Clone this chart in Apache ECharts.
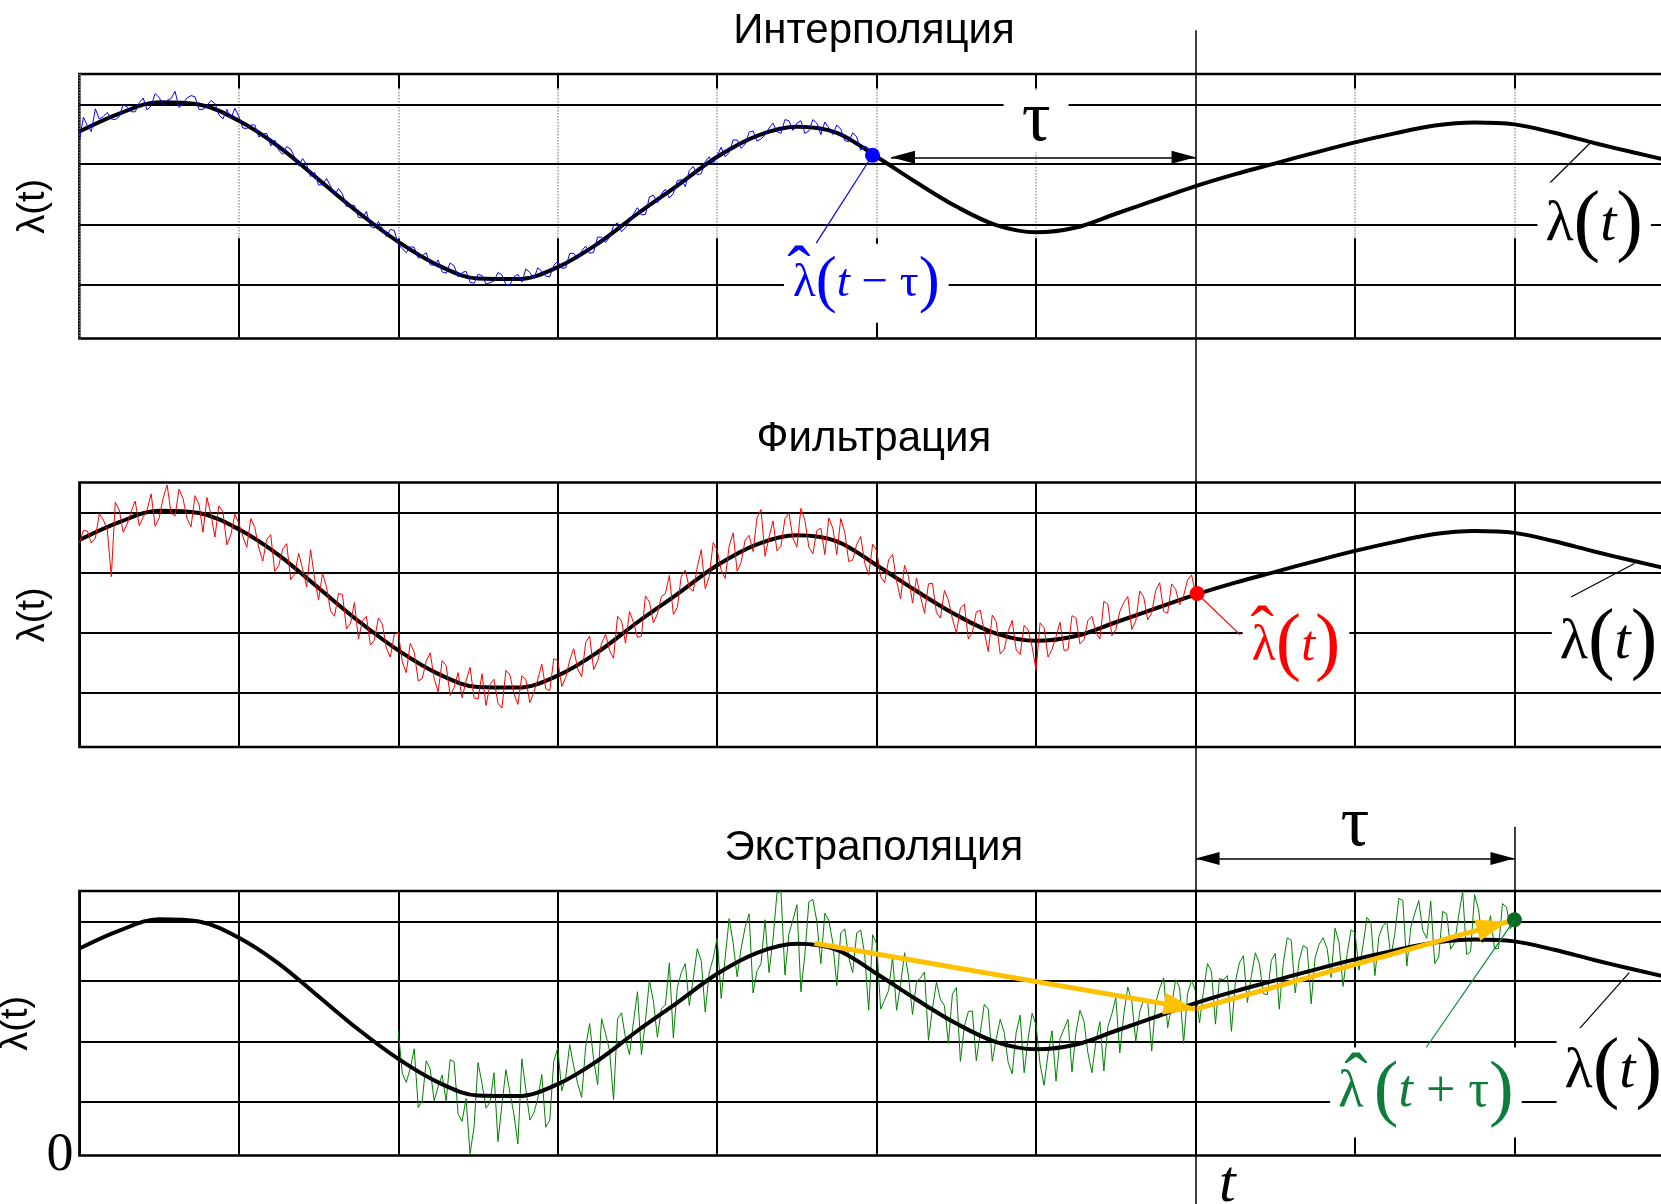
<!DOCTYPE html>
<html>
<head>
<meta charset="utf-8">
<title>Интерполяция, фильтрация, экстраполяция</title>
<script src="https://cdn.jsdelivr.net/npm/echarts@6.0.0/dist/echarts.min.js"></script>
<style>
  html, body { margin: 0; padding: 0; background: #fff; }
  #chart { width: 1661px; height: 1204px; }
</style>
</head>
<body>
<div id="chart"></div>
<script>
// horizontal grid lines (same in every panel), vertical ones come from the x axis
const hLines = [0.9, 1.9, 2.91, 3.9];
const vCols = [1, 2, 3, 4, 5, 6, 8, 9];

// true λ(t), read every 0.25 of a column, same curve in all three panels
const curveStep = 0.25;
const curveLambda = [3.45, 3.75, 3.94, 3.90, 3.63, 3.20, 2.65, 2.10, 1.61, 1.22,
  1.00, 0.99, 1.19, 1.58, 2.08, 2.55, 3.03, 3.38, 3.53, 3.43,
  3.03, 2.60, 2.20, 1.89, 1.77, 1.85, 2.08, 2.31, 2.54, 2.74,
  2.92, 3.10, 3.27, 3.42, 3.55, 3.60, 3.57, 3.43, 3.26, 3.10, 2.95];

// noisy observations, one value every 0.025 of a column
const noiseStep = 0.025;
const blueStart = 0;
const blueNoise = [
  3.30,3.69,3.55,3.45,3.83,3.66,3.70,3.77,3.66,3.65,3.70,3.90,3.86,3.78,3.78,3.93,4.01,3.81,3.88,4.08,
  4.02,3.89,3.97,4.00,4.12,3.85,3.92,4.01,4.05,4.03,3.82,3.82,3.88,3.97,3.92,3.73,3.66,3.82,3.66,3.84,
  3.70,3.51,3.50,3.56,3.56,3.36,3.41,3.42,3.21,3.31,3.14,3.07,3.20,3.16,3.02,2.88,3.00,2.90,2.70,2.77,
  2.56,2.56,2.67,2.54,2.39,2.50,2.41,2.20,2.22,2.22,2.02,2.01,2.12,1.87,1.84,1.95,1.84,1.70,1.82,1.80,
  1.57,1.50,1.43,1.53,1.52,1.34,1.38,1.43,1.23,1.22,1.31,1.11,1.09,1.26,1.21,1.03,1.10,1.12,0.94,0.92,
  1.07,1.05,0.91,0.93,0.96,1.10,1.06,0.90,0.89,1.03,1.07,0.94,1.16,1.10,1.00,1.18,1.12,1.04,1.03,1.22,
  1.29,1.17,1.18,1.42,1.42,1.33,1.46,1.54,1.42,1.44,1.69,1.69,1.60,1.69,1.88,1.93,1.78,1.85,1.95,2.08,
  2.18,2.06,2.07,2.36,2.39,2.26,2.41,2.49,2.34,2.42,2.63,2.65,2.53,2.80,2.87,2.73,2.75,2.95,3.03,2.91,
  3.05,3.19,3.03,3.10,3.31,3.31,3.17,3.24,3.44,3.46,3.29,3.33,3.39,3.51,3.59,3.45,3.42,3.65,3.63,3.47,
  3.59,3.63,3.42,3.46,3.65,3.59,3.40,3.61,3.51,3.40,3.56,3.49,3.30,3.28,3.43,3.36,3.14,3.21,3.17];
const redStart = 0;
const redNoise = [
  3.40,3.61,3.60,3.40,3.48,3.89,3.79,3.62,2.84,4.08,3.95,3.58,3.72,3.93,4.10,3.69,3.83,3.96,4.22,3.68,
  3.82,4.15,4.37,3.90,3.85,4.30,4.14,3.81,3.67,4.19,4.05,3.58,4.16,3.88,3.50,4.02,3.92,3.37,3.54,3.88,
  3.73,3.51,3.33,3.81,3.66,3.32,3.10,3.46,3.54,2.93,3.02,3.30,3.39,2.79,2.88,3.23,2.97,2.67,3.29,2.81,
  2.45,2.90,2.66,2.27,2.18,2.56,2.54,1.97,2.06,2.41,1.80,2.10,2.18,1.70,1.78,2.15,2.05,1.65,1.50,1.88,
  1.91,1.42,1.24,1.73,1.58,1.10,1.14,1.43,1.57,1.14,0.92,1.44,1.36,0.86,0.99,1.24,0.82,1.10,1.33,0.82,
  0.80,1.22,0.69,1.04,1.13,0.73,0.65,1.28,1.20,0.89,0.71,1.19,1.12,0.74,0.91,1.13,1.38,0.97,0.94,1.47,
  1.44,1.01,1.16,1.45,1.64,1.30,1.17,1.74,1.85,1.29,1.43,1.73,1.88,1.61,1.48,2.18,2.10,1.73,2.26,2.08,
  1.83,1.85,2.52,2.42,2.07,2.22,2.51,2.56,2.86,2.21,2.33,2.85,2.95,2.65,2.60,3.00,3.29,2.64,2.84,3.41,
  3.28,2.95,2.81,3.35,3.57,2.93,3.08,3.45,3.53,3.26,3.83,3.96,3.18,3.50,3.77,3.27,3.35,3.81,3.90,3.48,
  3.33,3.98,3.78,3.33,3.22,3.61,3.65,3.21,3.82,3.65,3.21,3.81,3.58,3.09,3.12,3.38,3.51,3.07,2.87,3.38,
  3.28,2.84,2.74,3.12,3.21,2.77,2.47,3.03,2.84,2.40,2.82,2.51,2.23,2.72,2.73,2.24,2.15,2.61,2.45,2.14,
  1.90,2.32,2.38,1.80,1.91,2.25,2.28,1.92,1.59,2.20,2.09,1.55,1.63,1.93,2.11,1.62,1.54,2.03,1.95,1.67,
  1.28,2.07,1.99,1.50,1.63,1.84,2.08,1.61,1.62,2.19,2.15,1.72,1.79,2.11,2.18,1.91,1.80,2.43,2.38,1.86,
  1.96,2.26,2.41,2.51,1.96,2.10,2.60,2.50,2.12,2.24,2.61,2.74,2.26,2.23,2.72,2.63,2.37,2.52,2.79,2.87,
  2.56];
const greenStart = 2;
const greenNoise = [
  2.08,1.37,1.22,1.45,1.78,0.80,0.91,1.58,1.44,0.91,1.15,1.34,0.91,1.60,1.56,0.69,0.57,0.95,0.03,0.47,
  1.55,1.20,0.79,0.89,1.38,0.23,0.85,1.43,1.05,0.69,0.19,1.61,1.10,0.59,0.71,0.95,1.35,0.47,0.59,1.57,
  1.79,1.08,1.30,1.85,1.49,1.20,0.97,1.81,2.20,1.60,1.18,2.28,2.03,1.75,0.93,2.28,2.38,1.95,1.68,2.23,
  2.73,1.68,2.25,2.92,2.57,1.97,2.45,2.51,3.21,1.96,2.80,3.05,3.20,2.50,2.95,3.45,3.24,2.39,3.05,3.29,
  3.63,2.62,3.30,3.95,3.54,2.98,3.45,3.80,4.03,2.71,3.08,3.20,3.93,3.05,3.60,4.38,4.40,3.01,3.70,3.93,
  4.18,2.73,3.35,4.23,4.27,3.90,3.20,4.04,3.92,3.55,2.83,3.71,3.78,3.30,3.05,3.71,3.76,3.35,2.42,3.68,
  3.53,2.44,2.59,2.75,3.31,2.42,2.85,3.38,2.99,2.35,2.90,2.96,3.06,1.92,2.45,2.89,2.60,2.50,1.87,2.69,
  2.80,1.57,2.15,2.40,2.41,1.58,2.05,2.52,2.44,1.57,1.95,2.27,2.05,1.55,1.36,2.05,2.34,1.38,1.95,2.37,
  2.17,1.52,1.17,1.70,2.08,1.24,1.95,2.11,2.27,1.39,2.05,2.42,2.24,1.71,1.38,1.90,2.23,1.41,2.15,2.36,
  2.63,1.71,2.35,2.81,2.58,1.90,2.40,2.60,2.57,1.74,2.55,2.79,2.96,2.13,2.50,2.93,2.80,1.87,2.70,2.92,
  2.74,2.21,2.75,3.20,3.07,2.19,2.95,2.93,3.00,2.07,2.90,3.21,3.33,2.55,3.00,3.38,3.20,2.70,2.68,3.25,
  3.37,2.44,3.20,3.63,3.59,2.71,3.25,3.50,3.46,2.53,3.30,3.52,3.63,3.45,2.97,3.79,3.55,2.82,3.35,3.76,
  3.72,3.09,3.50,3.97,3.88,3.00,3.65,3.83,3.89,3.31,3.70,4.29,4.25,3.16,3.80,4.04,4.25,3.75,3.62,4.24,
  3.20,3.31,4.07,4.03,3.44,3.55,4.00,4.40,3.35,3.40,4.35,4.10,3.55,3.70,4.00,3.45,3.45,4.20,4.14,3.78,
  3.93];

// estimates and arrows
const interpDot = [4.974, 3.055];
const filterDot = [7.01, 2.56];
const extrapDot = [9.0, 3.93];
const tauTop = [[5.09, 3.02], [7.0, 3.02]];
const tauBottom = [[7.0, 4.95], [9.0, 4.95]];
const yellowArrows = [[[4.61, 3.54], [7.0, 2.44]], [[7.0, 2.44], [8.96, 3.9]]];

const panelTitles = ['Интерполяция', 'Фильтрация', 'Экстраполяция'];

const FONT_SANS = "'Liberation Sans', Arial, sans-serif";
const FONT_SERIF = "'Liberation Serif', 'DejaVu Serif', serif";
const panelTops = [74, 482.5, 891];
const arrowHead = 'path://M0,0L6,24L-6,24ZM0,-24L0.01,-24';

function pairs(start, step, arr) {
  return arr.map((v, i) => [+(start + i * step).toFixed(3), v]);
}

function segs(g, list, color, width, extra) {
  return Object.assign({
    type: 'lines', coordinateSystem: 'cartesian2d', xAxisIndex: g, yAxisIndex: g,
    polyline: false, silent: true, z: 1,
    lineStyle: { color: color, width: width, opacity: 1, type: 'solid' },
    data: list.map(c => ({ coords: c }))
  }, extra || {});
}

function rich(color, letter, paren) {
  return {
    l: { fontFamily: FONT_SERIF, fontSize: letter, color: color },
    i: { fontFamily: FONT_SERIF, fontSize: letter, fontStyle: 'italic', color: color },
    o: { fontFamily: FONT_SERIF, fontSize: letter, color: color },
    p: { fontFamily: FONT_SERIF, fontSize: paren, color: color }
  };
}

function mathItem(pos, text, color, letter, paren, padding) {
  return {
    value: pos,
    label: {
      show: true, position: 'inside', formatter: text,
      backgroundColor: '#fff', padding: padding,
      rich: rich(color, letter, paren)
    }
  };
}

function plainItem(pos, text, font, size, style, color) {
  return {
    value: pos,
    label: {
      show: true, position: 'inside', formatter: text,
      fontFamily: font, fontSize: size, fontStyle: style || 'normal', color: color || '#000'
    }
  };
}

function textSeries(g, items, z) {
  return {
    type: 'scatter', xAxisIndex: g, yAxisIndex: g, z: z || 8, silent: true, clip: false,
    symbolSize: 1, itemStyle: { color: 'rgba(0,0,0,0)', opacity: 1 }, data: items
  };
}

function curveSeries(g) {
  return {
    type: 'line', xAxisIndex: g, yAxisIndex: g, z: 3, silent: true,
    symbol: 'none', smooth: 0.35,
    lineStyle: { color: '#000', width: 4 },
    data: pairs(0, curveStep, curveLambda)
  };
}

function noiseSeries(g, data, color, z) {
  return {
    type: 'line', xAxisIndex: g, yAxisIndex: g, z: z, silent: true,
    symbol: 'none', lineStyle: { color: color, width: 1 }, data: data
  };
}

function dotSeries(g, pos, color) {
  return {
    type: 'scatter', xAxisIndex: g, yAxisIndex: g, z: 6, silent: true,
    symbolSize: 15, itemStyle: { color: color, opacity: 1 }, data: [pos]
  };
}

const series = [];
[0, 1, 2].forEach(g => {
  series.push(segs(g, hLines.map(v => [[0, v], [10, v]]), '#000', 2));
  series.push(curveSeries(g));
});

// top panel: grid columns are black only near the frame, dotted grey around the curves
series.push(segs(0, vCols.map(c => [[c, 0], [c, 1.67]]).concat(vCols.map(c => [[c, 4.17], [c, 4.41]])), '#000', 2));

const blueData = pairs(blueStart, noiseStep, blueNoise).concat([interpDot]);
series.push(noiseSeries(0, blueData, '#0000ff', 4));
series.push(noiseSeries(1, pairs(redStart, noiseStep, redNoise), '#ff0000', 4));
series.push(noiseSeries(2, pairs(greenStart, noiseStep, greenNoise), '#008000', 2));

// arrows
series.push(segs(0, [tauTop], '#000', 1.5, { z: 5, symbol: [arrowHead, arrowHead], symbolSize: [[13, 48], [13, 48]] }));
series.push(segs(2, [tauBottom], '#000', 1.5, { z: 5, clip: false, symbol: [arrowHead, arrowHead], symbolSize: [[13, 48], [13, 48]] }));
series.push(segs(2, yellowArrows, '#ffc000', 5, { z: 5, symbol: ['none', arrowHead], symbolSize: [10, [22, 64]] }));

// time mark t and the end of τ
series.push(segs(2, [[[7, -0.9], [7, 18.76]]], '#000', 1.5, { z: 6, clip: false }));
series.push(segs(2, [[[9, 4.41], [9, 5.48]]], '#000', 1.5, { z: 6, clip: false }));

// leader lines
series.push(segs(0, [[interpDot, [4.621, 1.59]]], '#0000ff', 1.2, { z: 7 }));
series.push(segs(0, [[[9.217, 2.58], [9.475, 3.26]]], '#000', 1.2, { z: 7 }));
series.push(segs(1, [[filterDot, [7.28, 1.87]]], '#ff0000', 1.2, { z: 7 }));
series.push(segs(1, [[[9.355, 2.5], [9.753, 3.06]]], '#000', 1.2, { z: 7 }));
series.push(segs(2, [[extrapDot, [8.386, 1.567]]], '#0a8a3a', 1.2, { z: 7 }));
series.push(segs(2, [[[9.40, 2.09], [9.72, 3.05]]], '#000', 1.2, { z: 7 }));

series.push(dotSeries(0, interpDot, '#0000ff'));
series.push(dotSeries(1, filterDot, '#ff0000'));
series.push(dotSeries(2, extrapDot, '#0b6b22'));

const lam = '{l|λ}{p|(}{i|t}{p|)}';
series.push(textSeries(0, [
  plainItem([4.983, 5.12], panelTitles[0], FONT_SANS, 42),
  mathItem([9.5, 1.9], lam, '#000', 58, 80, [2, 8]),
  mathItem([4.935, 0.92], '{l|λ}{p|(}{i|t}{o| − τ}{p|)}', '#0000ff', 47, 63, [8, 9]),
  { value: [6.0, 3.62], label: { show: true, position: 'inside', formatter: 'τ', fontFamily: FONT_SERIF,
    fontSize: 72, lineHeight: 50, color: '#000', backgroundColor: '#fff', padding: [0, 18, 12, 18] } }
]));
series.push(textSeries(1, [
  plainItem([4.983, 5.12], panelTitles[1], FONT_SANS, 42),
  mathItem([9.59, 1.73], lam, '#000', 58, 80, [4, 8]),
  mathItem([7.63, 1.675], '{l|λ}{p|(}{i|t}{p|)}', '#ff0000', 50, 76, [2, 9])
]));
series.push(textSeries(2, [
  plainItem([4.983, 5.12], panelTitles[2], FONT_SANS, 42),
  mathItem([9.62, 1.39], lam, '#000', 58, 80, [4, 8]),
  mathItem([8.445, 1.05], '{l|λ}{o|\u2009}{p|(}{i|t}{o| + τ}{p|)}', '#0e7c3a', 52, 74, [8, 8]),
  plainItem([8.0, 5.5], 'τ', FONT_SERIF, 72),
  plainItem([7.2, -0.49], 't', FONT_SERIF, 60, 'italic')
]));

// circumflex hats over the estimated λ
series.push(textSeries(0, [plainItem([4.513, 1.05], 'ˆ', FONT_SERIF, 70, 'normal', '#0000ff')], 9));
series.push(textSeries(1, [plainItem([7.418, 1.86], 'ˆ', FONT_SERIF, 70, 'normal', '#ff0000')], 9));
series.push(textSeries(2, [plainItem([8.005, 1.21], 'ˆ', FONT_SERIF, 70, 'normal', '#0e7c3a')], 9));

const option = {
  animation: false,
  backgroundColor: '#fff',
  grid: panelTops.map(top => ({
    left: 79.4, right: -12.9, top: top, height: 264.5,
    show: true, borderColor: '#000', borderWidth: 2.5, backgroundColor: 'transparent',
    containLabel: false, outerBoundsMode: 'none'
  })),
  xAxis: [0, 1, 2].map(g => ({
    gridIndex: g, type: 'value', min: 0, max: 10, interval: 1,
    axisLine: { show: false }, axisTick: { show: false }, axisLabel: { show: false },
    splitLine: { show: true, lineStyle: g === 0 ? { color: '#9a9a9a', width: 1.5, type: 'dotted' } : { color: '#000', width: 2 } }
  })),
  yAxis: [0, 1, 2].map(g => ({
    gridIndex: g, type: 'value', min: 0, max: 4.41,
    name: 'λ(t)', nameLocation: 'middle', nameGap: 27,
    nameTextStyle: { fontFamily: FONT_SANS, fontSize: 38, color: '#000' },
    axisLine: { show: false }, axisTick: { show: false }, splitLine: { show: false },
    axisLabel: { show: g === 2, formatter: v => (v === 0 ? '0' : ''), fontFamily: FONT_SERIF, fontSize: 54, color: '#000', margin: 6 }
  })),
  series: series
};

const myChart = echarts.init(document.getElementById('chart'));
myChart.setOption(option);
window.addEventListener('resize', () => myChart.resize());
</script>
</body>
</html>
